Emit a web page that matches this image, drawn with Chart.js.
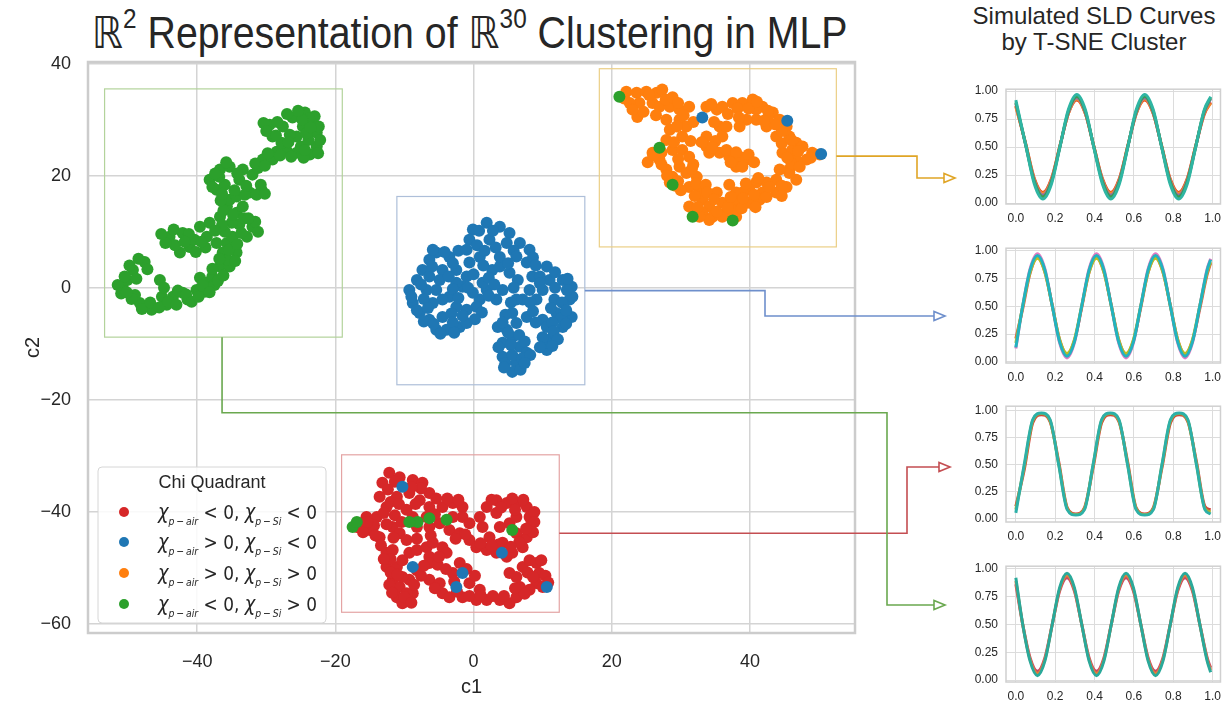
<!DOCTYPE html>
<html>
<head>
<meta charset="utf-8">
<script src="https://cdn.jsdelivr.net/npm/chart.js@4.4.1/dist/chart.umd.min.js"></script>
<style>
  body { margin: 0; background: #fff; width: 1228px; height: 703px; overflow: hidden; position: relative;
         font-family: "Liberation Sans", Arial, sans-serif; color: #262626; }
  canvas { position: absolute; }
  #title { position: absolute; left: 92px; top: 8px; font-size: 44px; line-height: 50px; white-space: nowrap; transform-origin: 0 0; }
  #title .bb { font-family: "DejaVu Sans"; }
  #title sup { font-size: 0.62em; vertical-align: 0.75em; line-height: 0; }
  #title2 { position: absolute; left: 958px; width: 272px; top: 3px; text-align: center; font-size: 24px; line-height: 26px; }
</style>
</head>
<body>
<div id="title"><span class="bb">ℝ</span><sup>2</sup> Representation of <span class="bb">ℝ</span><sup>30</sup> Clustering in MLP</div>
<div id="title2">Simulated SLD Curves<br>by T-SNE Cluster</div>
<canvas id="main" width="1228" height="703" style="left:0;top:0"></canvas>
<canvas id="sld1" width="273" height="152" style="left:955px;top:74px"></canvas>
<canvas id="sld2" width="273" height="152" style="left:955px;top:233px"></canvas>
<canvas id="sld3" width="273" height="153" style="left:955px;top:391px"></canvas>
<canvas id="sld4" width="273" height="153" style="left:955px;top:551px"></canvas>
<script>
// ---- t-SNE scatter (c1, c2) ----
const xTicks = [-40, -20, 0, 20, 40];
const yTicks = [-60, -40, -20, 0, 20, 40];

const greenPts = [
  [-50.8,0.2],[-49.3,3.2],[-47.6,4.6],[-48.3,-2.7],[-46.6,-3.9],[-45.4,1.4],[-45.1,-1.6],[-43.5,-1.6],[-42.1,-0.9],
  [-40.1,-0.4],[-39.6,1.8],[-38.6,0.9],[-37.8,2.0],[-36.7,3.8],[-36.3,6.3],[-35.7,8.0],[-34.9,9.1],[-34.3,6.3],
  [-35.3,3.8],[-37.2,8.0],[-38.6,9.1],[-41.1,7.3],[-42.5,6.3],[-44.0,9.1],[-42.1,9.8],[-39.6,10.9],[-38.2,11.6],
  [-36.7,12.7],[-35.7,14.5],[-34.3,13.4],[-33.4,14.5],[-32.0,10.9],[-32.8,9.1],[-35.3,15.7],[-34.3,16.3],[-32.4,17.0],
  [-30.7,17.5],[-37.2,17.5],[-38.2,19.3],[-36.7,21.1],[-35.3,21.6],[-33.4,21.1],[-32.0,20.2],[-30.5,22.9],[-29.1,22.9],
  [-28.5,24.3],[-27.1,24.6],[-25.6,24.1],[-23.7,23.8],[-22.7,25.2],[-22.7,27.7],[-23.3,29.5],[-24.4,31.3],[-26.2,30.4],
  [-27.6,28.8],[-29.5,29.1],[-29.1,27.0],[-27.8,25.9],[-25.6,27.0],[-24.7,28.8],[-50.1,1.4],[-49.0,-1.3],[-44.4,-3.0],
  [-41.4,-2.1],[-38.9,-0.7],[-37.5,0.5],[-35.6,5.0],[-36.0,10.0],[-40.4,8.6],[-33.9,11.3],[-33.1,16.6],[-36.0,18.4],
  [-33.9,19.3],[-31.2,21.4],[-25.0,25.2],[-23.9,26.4],[-26.6,27.3],
  [-51.5,0.5],[-51.0,-1.0],[-50.5,2.0],[-49.8,4.0],[-48.5,5.2],[-47.2,3.3],[-49.5,-2.0],[-48.0,-3.8],[-46.8,-2.6],
  [-45.5,-3.5],[-44.8,0.0],[-50.2,-0.8],[-48.8,1.6],[-44.2,-2.5],[-43.0,-3.0],[-42.8,-0.5],[-41.6,-1.2],[-40.8,-2.5],
  [-39.8,-1.6],[-39.2,0.4],[-38.2,-0.8],[-37.0,1.2],[-36.2,2.2],[-37.8,3.4],[-36.8,5.2],[-35.4,6.8],[-34.2,7.8],
  [-33.6,9.8],[-35.0,11.6],[-36.4,11.2],[-37.4,10.2],[-38.8,7.2],[-34.5,4.8],[-33.2,12.4],[-43.2,7.6],[-44.6,8.0],
  [-45.2,9.6],[-43.4,10.4],[-41.2,9.6],[-40.2,6.4],[-39.4,8.2],[-41.8,8.2],[-31.2,10.0],[-31.6,11.8],[-32.6,12.4],
  [-36.2,13.8],[-34.8,13.0],[-36.6,15.6],[-34.6,17.4],[-36.4,16.8],[-37.8,18.0],[-36.8,19.8],[-34.2,20.4],[-35.8,22.4],
  [-37.4,20.4],[-32.9,18.2],[-31.4,16.6],[-30.2,16.8],[-30.8,18.4],[-31.6,22.2],[-30.2,21.8],[-29.8,24.0],[-28.0,23.6],
  [-26.4,23.4],[-24.6,23.2],[-22.5,24.0],[-24.4,24.6],[-22.2,26.4],[-22.4,28.8],[-23.0,30.6],[-23.8,30.2],[-24.8,30.0],
  [-25.4,31.6],[-27.0,31.0],[-28.4,29.6],[-30.4,29.4],[-30.0,28.0],[-28.6,27.2],[-24.2,27.6],[-23.6,28.6],[-26.8,26.0]
];

const bluePts = [
  [1.9,11.6],[-0.1,10.4],[3.8,10.9],[5.2,9.8],[-0.6,8.6],[2.3,8.6],[4.8,8.0],[6.7,8.0],[8.1,6.8],[7.7,4.5],[10.6,3.8],
  [8.5,2.0],[11.0,1.4],[12.9,1.4],[14.2,0.2],[13.9,-2.1],[14.2,-5.2],[12.9,-7.0],[11.4,-8.8],[10.6,-9.8],[12.0,-4.5],
  [10.0,-5.7],[9.1,-2.1],[8.1,-0.4],[7.1,-2.1],[7.7,-5.2],[6.2,-6.3],[5.6,-8.8],[6.7,-10.5],[7.7,-11.6],[6.2,-13.4],
  [5.6,-15.0],[4.2,-12.3],[4.2,-9.8],[4.8,-7.5],[3.5,-7.0],[5.6,-4.5],[6.2,-2.1],[4.2,-0.4],[3.3,-2.1],[1.9,-0.4],
  [0.9,-2.1],[1.3,0.9],[2.7,3.2],[3.8,3.8],[3.8,5.5],[0.9,5.5],[-0.6,4.5],[-1.0,2.0],[-1.6,0.2],[-0.1,-0.9],[0.4,-3.4],
  [-1.0,-3.9],[-2.5,-3.4],[-3.5,-1.6],[-2.5,0.9],[-2.5,3.2],[-3.5,5.5],[-4.5,3.2],[-5.4,6.3],[-6.4,5.0],[-7.4,3.2],
  [-8.2,1.4],[-9.3,-0.4],[-8.8,-2.7],[-7.8,-4.5],[-6.4,-5.7],[-5.4,-7.5],[-3.9,-7.5],[-2.0,-7.0],[-1.0,-6.3],[-4.5,-5.2],
  [-5.9,-2.7],[-6.8,-0.4],[-5.4,-0.4],[-4.5,-2.1],[-6.4,2.0],[-4.9,1.4],[-5.9,6.8],[10.6,-11.1],[10.0,-8.8],[12.7,-5.4],
  [14.3,-1.6],[13.5,-0.4],[10.0,-0.4],[11.7,-2.1],[5.2,2.7],[10.6,-7.0],
  [0.8,10.2],[2.8,10.2],[0.5,7.6],[3.2,7.2],[5.8,6.6],[-4.2,6.4],[-2.2,6.6],[-1.0,6.8],[1.6,6.6],[6.2,5.6],[8.6,5.4],
  [-6.0,3.8],[-3.0,4.4],[1.4,4.0],[5.0,4.4],[9.0,4.0],[11.8,2.8],[-3.6,2.0],[0.0,2.4],[2.2,1.8],[6.4,1.4],[9.6,2.0],
  [13.6,1.6],[-7.6,0.6],[-3.0,-0.2],[-0.8,0.0],[3.0,0.6],[5.8,0.0],[9.6,0.8],[11.8,0.0],[-9.0,-1.6],[-7.2,-2.0],
  [-2.2,-1.8],[2.2,-1.4],[5.4,-2.6],[8.2,-2.6],[12.8,-2.6],[-8.2,-4.0],[-6.6,-3.6],[-3.2,-4.6],[-1.6,-5.0],[1.2,-4.4],
  [4.6,-4.8],[8.6,-4.2],[11.2,-3.6],[13.4,-4.0],[-7.2,-6.0],[-5.8,-6.4],[-3.0,-6.2],[0.2,-5.6],[4.2,-6.2],[9.0,-6.2],
  [11.4,-6.2],[13.4,-6.4],[-4.8,-8.2],[-2.8,-8.0],[5.0,-8.0],[6.6,-8.4],[11.6,-7.8],[12.2,-9.2],[3.6,-10.6],[5.4,-10.2],
  [7.4,-9.6],[9.6,-10.6],[11.4,-10.4],[4.6,-13.4],[5.6,-12.0],[7.0,-12.6],[8.2,-12.0],[4.4,-14.2],[6.8,-14.6],[7.4,-13.4]
];

const orangePts = [
  [22.1,35.0],[23.6,34.8],[25.0,35.0],[26.5,34.8],[27.3,35.4],[24.0,33.0],[22.6,33.0],[23.7,30.5],[25.9,33.0],[26.9,32.3],
  [28.4,32.3],[29.8,31.8],[31.2,32.3],[27.9,30.0],[29.8,30.0],[30.8,28.8],[28.4,28.2],[30.2,27.0],[27.9,26.4],[28.8,24.6],
  [30.2,24.6],[31.2,23.4],[25.9,24.1],[26.9,22.9],[27.9,21.1],[28.8,19.8],[29.8,21.6],[30.8,20.5],[32.3,19.8],[28.4,18.8],
  [31.2,18.0],[32.7,17.5],[33.1,15.7],[34.1,14.5],[35.2,17.0],[36.0,15.2],[33.1,13.4],[34.6,12.7],[36.6,13.4],[38.0,12.7],
  [38.0,15.2],[31.2,14.5],[33.7,32.3],[35.2,31.8],[36.0,32.3],[37.5,33.0],[38.9,33.0],[40.4,33.6],[41.8,32.3],[43.3,31.3],
  [40.9,30.0],[39.5,30.0],[38.5,28.8],[35.6,28.8],[36.0,27.0],[36.6,28.8],[33.7,27.0],[33.7,25.2],[34.1,24.1],[35.6,24.1],
  [37.0,23.4],[38.5,23.4],[39.5,22.9],[38.0,21.6],[38.9,21.6],[44.3,30.0],[45.3,28.8],[45.7,27.0],[46.7,25.9],[47.6,25.2],
  [49.0,24.1],[50.1,23.8],[48.2,22.9],[46.7,22.9],[45.7,21.1],[46.7,19.3],[45.3,18.0],[43.8,19.3],[42.4,18.8],[40.9,18.8],
  [39.9,17.5],[38.9,17.0],[38.0,17.0],[41.8,17.0],[43.8,17.0],[39.9,15.2],[41.4,15.7],[37.5,13.9],[45.7,20.5],[44.3,21.1],
  [36.0,12.7],[34.1,12.1],[32.7,12.7],[44.7,24.1],[43.8,27.0],[42.4,28.8],[40.9,31.8],[46.1,24.6],
  [21.8,33.8],[23.0,31.8],[24.6,31.4],[25.4,34.4],[27.8,33.6],[28.8,34.0],[29.6,33.0],[30.4,30.8],[26.4,30.8],
  [29.0,26.0],[31.4,26.2],[29.4,28.8],[31.8,29.6],[27.2,24.2],[29.6,23.0],[31.8,22.0],[27.2,22.0],[25.2,22.4],[26.0,23.6],
  [28.0,20.0],[29.6,19.0],[31.6,21.2],[30.0,17.4],[29.2,18.2],[32.2,18.6],[33.6,18.4],[32.0,16.4],[33.8,17.0],[34.8,15.8],
  [35.2,13.6],[32.4,14.4],[36.8,14.4],[37.2,16.2],[38.8,14.2],[39.0,16.0],[40.6,16.6],[40.8,14.4],[42.4,16.2],[42.8,18.0],
  [44.6,18.2],[44.6,16.4],[39.4,18.6],[41.2,19.6],[37.0,18.4],[46.0,22.2],[47.2,21.6],[48.8,23.2],[47.0,24.4],[45.4,23.2],
  [44.6,25.8],[46.0,26.4],[44.6,28.0],[43.6,29.2],[42.6,30.4],[34.4,32.8],[36.8,31.0],[38.2,32.0],[39.8,32.0],[41.0,33.2],
  [42.6,31.6],[42.0,29.8],[38.4,30.4],[34.8,29.6],[35.0,26.2],[34.6,25.0],[36.6,24.6],[38.0,24.2],[39.8,23.8],[40.6,22.4],
  [37.2,22.4],[33.0,26.0]
];

const redPts = [
  [-12.2,-33.0],[-10.7,-33.8],[-8.8,-34.3],[-7.4,-34.8],[-13.2,-34.8],[-13.6,-37.3],[-12.6,-39.1],[-14.0,-40.9],[-15.5,-40.9],
  [-16.5,-42.0],[-15.0,-43.2],[-13.6,-44.5],[-11.7,-42.7],[-10.7,-43.8],[-9.7,-45.0],[-11.1,-37.3],[-9.3,-36.6],[-7.8,-37.9],
  [-6.4,-36.6],[-6.4,-39.1],[-6.8,-40.9],[-8.8,-40.9],[-9.7,-39.6],[-8.2,-42.7],[-6.4,-42.7],[-4.9,-42.0],[-4.5,-39.1],
  [-3.0,-38.4],[-1.6,-39.1],[-1.6,-40.9],[-3.0,-40.9],[-3.5,-43.2],[-2.0,-43.8],[-0.6,-45.0],[0.4,-46.3],[1.9,-46.8],
  [3.3,-47.3],[4.8,-48.0],[5.6,-47.3],[4.2,-45.5],[2.3,-44.5],[1.3,-42.7],[0.9,-40.9],[1.9,-39.1],[3.3,-37.9],[4.8,-38.4],
  [6.2,-38.4],[7.7,-39.1],[8.1,-40.9],[8.1,-42.7],[7.7,-44.5],[7.1,-46.3],[6.2,-43.8],[5.2,-42.0],[6.2,-40.9],[3.3,-40.2],
  [3.8,-42.7],[-0.6,-42.0],[-12.6,-47.3],[-11.7,-46.8],[-12.6,-49.8],[-11.1,-49.8],[-10.3,-48.6],[-9.3,-47.3],[-8.2,-46.8],
  [-6.8,-46.3],[-5.9,-45.5],[-4.5,-46.3],[-3.9,-47.3],[-6.4,-48.0],[-6.4,-49.1],[-11.7,-52.1],[-10.7,-53.4],[-11.1,-55.2],
  [-10.3,-56.3],[-8.8,-54.5],[-9.3,-52.1],[-8.2,-50.4],[-10.3,-51.6],[-6.4,-52.1],[-4.9,-52.7],[-4.5,-54.5],[-3.5,-55.2],
  [-1.6,-55.2],[0.4,-55.7],[1.9,-55.7],[3.8,-55.7],[5.2,-56.3],[6.2,-55.2],[6.7,-53.4],[6.2,-51.6],[7.1,-49.8],[8.1,-48.6],
  [9.1,-49.1],[9.5,-50.9],[9.1,-52.7],[10.0,-53.4],[8.1,-53.9],[5.2,-50.9],[-3.0,-50.9],[-0.6,-52.7],[0.9,-53.9],
  [-2.0,-49.1],[-9.7,-54.5],[-16.9,-42.7],
  [-11.4,-34.6],[-12.4,-36.0],[-12.0,-38.2],[-13.0,-40.2],[-11.4,-40.6],[-10.4,-41.8],[-12.6,-42.2],[-14.4,-42.4],
  [-16.0,-43.6],[-14.2,-44.2],[-11.6,-44.6],[-10.8,-38.6],[-8.4,-38.6],[-7.6,-35.8],[-5.4,-37.6],[-5.6,-40.4],[-3.8,-37.6],
  [-2.2,-37.8],[2.6,-37.8],[5.6,-37.6],[7.2,-37.8],[8.8,-40.0],[8.8,-41.8],[8.6,-43.6],[7.6,-43.0],[6.6,-45.4],[5.4,-46.2],
  [3.6,-45.8],[2.6,-46.0],[1.0,-45.6],[-1.2,-44.0],[-2.6,-44.8],[-12.0,-48.4],[-13.0,-48.4],[-12.0,-50.8],[-11.0,-51.2],
  [-12.2,-53.0],[-11.8,-54.4],[-10.0,-55.2],[-9.0,-56.2],[-8.6,-53.0],[-7.6,-51.4],[-7.2,-49.6],[-5.2,-49.4],[-5.0,-48.0],
  [-5.6,-53.6],[-2.4,-54.2],[-0.6,-55.0],[1.0,-54.8],[2.8,-55.0],[4.4,-55.0],[6.0,-53.6],[7.4,-54.6],[7.8,-50.8],
  [8.6,-51.6],[10.4,-51.4],[10.8,-52.6],[9.8,-48.6],[-1.0,-50.2],[0.2,-51.4],[-4.0,-50.2],[-2.8,-52.4],[-6.2,-44.2],
  [-8.2,-44.8],[-13.4,-46.0],[-9.0,-35.6],[4.0,-39.2],[6.0,-39.6],[-15.4,-41.8]
];

// points whose quadrant differs from their cluster
const blueStrays = [[33.1,30.4],[45.4,29.8],[50.3,23.9],[-10.3,-35.5],[-8.8,-49.8],[-1.6,-50.9],[-2.5,-53.4],[4.1,-47.3],[10.6,-53.4]];
const greenStrays = [[21.1,34.1],[26.9,25.0],[28.8,18.4],[31.7,12.7],[37.5,12.0],[-17.5,-42.7],[-16.9,-41.8],[-8.1,-41.8],
  [-9.3,-41.8],[-6.4,-41.1],[-3.9,-41.4],[5.6,-43.2]];

// cluster boxes [x1, x2, yTop, yBottom]
const boxGreen = [-53.4, -19.0, 35.5, -8.8];
const boxBlue = [-11.1, 16.1, 16.3, -17.3];
const boxOrange = [18.2, 52.5, 39.1, 7.3];
const boxRed = [-19.1, 12.4, -29.8, -57.9];

const legendSigns = [['<', '<'], ['>', '<'], ['>', '>'], ['<', '>']];
const legendColors = ['#d62728', '#1f77b4', '#ff7f0e', '#2ca02c'];

// ---- simulated SLD curves ----
const sldXTicks = [0, 0.2, 0.4, 0.6, 0.8, 1.0];
const sldYTicks = [0, 0.25, 0.5, 0.75, 1.0];

const sld1X = [0, 0.05, 0.094, 0.1375, 0.181, 0.224, 0.267, 0.31, 0.353, 0.396, 0.44, 0.4825, 0.526, 0.569, 0.612, 0.655,
  0.698, 0.741, 0.784, 0.8275, 0.871, 0.914, 0.957, 0.99];
const sld1Teal = [0.92,0.52,0.17,0.036,0.17,0.50,0.835,0.97,0.835,0.50,0.17,0.036,0.17,0.50,0.835,0.97,0.835,0.50,0.17,0.036,0.17,0.50,0.83,0.95];
const sld1Green = [0.90,0.52,0.19,0.055,0.19,0.505,0.82,0.955,0.82,0.505,0.19,0.055,0.19,0.505,0.82,0.955,0.82,0.505,0.19,0.055,0.19,0.505,0.82,0.94];
const sld1Purple = [0.89,0.52,0.20,0.07,0.20,0.505,0.81,0.94,0.81,0.505,0.20,0.07,0.20,0.505,0.81,0.94,0.81,0.505,0.20,0.07,0.20,0.505,0.81,0.93];
const sld1Orange = [0.86,0.53,0.21,0.085,0.21,0.51,0.80,0.93,0.80,0.51,0.21,0.085,0.21,0.51,0.80,0.93,0.80,0.51,0.21,0.085,0.21,0.51,0.80,0.89];
const sld1Red = [0.87,0.53,0.22,0.095,0.22,0.51,0.80,0.92,0.80,0.51,0.22,0.095,0.22,0.51,0.80,0.92,0.80,0.51,0.22,0.095,0.22,0.51,0.79,0.90];

const sld24X = [0, 0.035, 0.0725, 0.11, 0.1475, 0.185, 0.2225, 0.26, 0.2975, 0.335, 0.3725, 0.41, 0.4475, 0.485, 0.5225,
  0.56, 0.5975, 0.635, 0.6725, 0.71, 0.7475, 0.785, 0.8225, 0.86, 0.8975, 0.935, 0.9725, 0.99];
const sld2Pink = [0.12,0.505,0.84,0.975,0.84,0.505,0.17,0.035,0.17,0.505,0.84,0.975,0.84,0.505,0.17,0.035,0.17,0.505,0.84,0.975,0.84,0.505,0.17,0.035,0.17,0.505,0.84,0.93];
const sld2Cyan = [0.13,0.505,0.83,0.96,0.83,0.505,0.18,0.05,0.18,0.505,0.83,0.96,0.83,0.505,0.18,0.05,0.18,0.505,0.83,0.96,0.83,0.505,0.18,0.05,0.18,0.505,0.83,0.92];
const sld2Olive = [0.17,0.50,0.81,0.935,0.81,0.505,0.20,0.075,0.20,0.505,0.81,0.935,0.81,0.505,0.20,0.075,0.20,0.505,0.81,0.935,0.81,0.505,0.20,0.075,0.20,0.505,0.81,0.90];
const sld2Red = [0.21,0.48,0.80,0.94,0.81,0.51,0.20,0.07,0.19,0.49,0.81,0.94,0.81,0.51,0.20,0.07,0.19,0.49,0.81,0.94,0.81,0.51,0.20,0.07,0.19,0.48,0.79,0.89];

const sld3X = [0, 0.0425, 0.086, 0.13, 0.174, 0.2175, 0.261, 0.305, 0.349, 0.3925, 0.436, 0.48, 0.524, 0.5675, 0.611, 0.655,
  0.699, 0.7425, 0.786, 0.83, 0.874, 0.9175, 0.961, 0.99];
const sld3Teal = [0.05,0.50,0.92,0.98,0.92,0.50,0.08,0.03,0.08,0.50,0.92,0.98,0.92,0.50,0.08,0.03,0.08,0.50,0.92,0.98,0.92,0.50,0.08,0.04];
const sld3Olive = [0.08,0.48,0.91,0.975,0.91,0.51,0.09,0.035,0.09,0.49,0.91,0.975,0.91,0.51,0.09,0.035,0.09,0.49,0.91,0.975,0.91,0.51,0.09,0.06];
const sld3Red = [0.11,0.45,0.89,0.965,0.90,0.53,0.10,0.04,0.10,0.47,0.89,0.965,0.90,0.53,0.10,0.04,0.10,0.47,0.89,0.965,0.90,0.53,0.11,0.08];

const sld4Teal = [0.92,0.50,0.17,0.04,0.17,0.50,0.83,0.96,0.83,0.50,0.17,0.04,0.17,0.50,0.83,0.96,0.83,0.50,0.17,0.04,0.17,0.50,0.83,0.96,0.83,0.50,0.17,0.07];
const sld4Orange = [0.89,0.50,0.185,0.06,0.185,0.50,0.815,0.94,0.815,0.50,0.185,0.06,0.185,0.50,0.815,0.94,0.815,0.50,0.185,0.06,0.185,0.50,0.815,0.94,0.815,0.50,0.185,0.09];
const sld4Crimson = [0.86,0.50,0.20,0.08,0.20,0.50,0.80,0.92,0.80,0.50,0.20,0.08,0.20,0.50,0.80,0.92,0.80,0.50,0.20,0.08,0.20,0.50,0.80,0.92,0.80,0.50,0.20,0.11];

// fit the squeezed-looking title to its width in the reference
const titleEl = document.getElementById('title');
titleEl.style.transform = 'scaleX(' + (756 / titleEl.offsetWidth) + ')';

const minus = v => String(v).replace('-', '\u2212');
const TXT = '#262626';

function pts(arr) { return arr.map(p => ({ x: p[0], y: p[1] })); }
function dots(arr, color) {
  return { data: pts(arr), backgroundColor: color, borderWidth: 0, pointRadius: 6, pointHoverRadius: 6 };
}

function arrowPath(ctx, path, color) {
  ctx.save();
  ctx.strokeStyle = color;
  ctx.lineWidth = 1.6;
  ctx.beginPath();
  path.forEach((p, i) => i ? ctx.lineTo(p[0], p[1]) : ctx.moveTo(p[0], p[1]));
  const tip = path[path.length - 1];
  ctx.lineTo(tip[0] - 10, tip[1]);
  ctx.stroke();
  ctx.beginPath();
  ctx.moveTo(tip[0], tip[1]);
  ctx.lineTo(tip[0] - 11, tip[1] - 4.5);
  ctx.lineTo(tip[0] - 11, tip[1] + 4.5);
  ctx.closePath();
  ctx.fillStyle = '#fff';
  ctx.fill();
  ctx.stroke();
  ctx.restore();
}

const decor = {
  id: 'decor',
  beforeDatasetsDraw(chart) {
    const { ctx, chartArea: a, scales: { x, y } } = chart;
    ctx.save();
    [[boxGreen, '#b3d39b'], [boxBlue, '#aebfd9'], [boxOrange, '#ebcf86'], [boxRed, '#e4a4a4']].forEach(([b, c]) => {
      ctx.strokeStyle = c;
      ctx.lineWidth = 1.2;
      const x1 = x.getPixelForValue(b[0]), x2 = x.getPixelForValue(b[1]);
      const y1 = y.getPixelForValue(b[2]), y2 = y.getPixelForValue(b[3]);
      ctx.strokeRect(x1, y1, x2 - x1, y2 - y1);
    });
    ctx.strokeStyle = '#cccccc';
    ctx.lineWidth = 2.5;
    ctx.strokeRect(a.left, a.top, a.right - a.left, a.bottom - a.top);
    ctx.restore();
  },
  afterDraw(chart) {
    const { ctx, scales: { x, y } } = chart;
    const px = v => x.getPixelForValue(v), py = v => y.getPixelForValue(v);
    // connectors to the SLD panels
    const yo = py(23.5);
    arrowPath(ctx, [[px(boxOrange[1]), yo], [917, yo], [917, 178], [955, 178]], '#e0a526');
    const yb = py(-0.5);
    arrowPath(ctx, [[px(boxBlue[1]), yb], [765, yb], [765, 316], [945, 316]], '#6e8fcc');
    const yr = py(-43.8);
    arrowPath(ctx, [[px(boxRed[1]), yr], [907, yr], [907, 467], [950, 467]], '#c44e52');
    const xg = px(-36.4), yg = py(-22.3);
    arrowPath(ctx, [[xg, py(boxGreen[3])], [xg, yg], [887, yg], [887, 605], [945, 605]], '#6aa84f');

    // legend
    ctx.save();
    ctx.beginPath();
    ctx.roundRect(98, 467, 228, 156, 4);
    ctx.fillStyle = 'rgba(255,255,255,0.85)';
    ctx.fill();
    ctx.strokeStyle = '#d6d6d6';
    ctx.lineWidth = 1;
    ctx.stroke();
    ctx.fillStyle = TXT;
    ctx.textAlign = 'center';
    ctx.textBaseline = 'middle';
    ctx.font = '18px "Liberation Sans", Arial, sans-serif';
    ctx.fillText('Chi Quadrant', 212, 483);
    const rowY = [512, 542, 573, 604];
    legendSigns.forEach((s, i) => {
      const yy = rowY[i];
      ctx.beginPath();
      ctx.arc(124, yy, 5, 0, Math.PI * 2);
      ctx.fillStyle = legendColors[i];
      ctx.fill();
      const pieces = [
        ['italic 21px "DejaVu Sans"', '\u03c7', 0],
        ['italic 11px "DejaVu Sans"', 'p\u2009\u2212\u2009air', 6],
        ['20px "DejaVu Sans"', ' ' + s[0] + ' 0, ', 0],
        ['italic 21px "DejaVu Sans"', '\u03c7', 0],
        ['italic 11px "DejaVu Sans"', 'p\u2009\u2212\u2009Si', 6],
        ['20px "DejaVu Sans"', ' ' + s[1] + ' 0', 0]
      ];
      let w = 0;
      pieces.forEach(p => { ctx.font = p[0]; w += ctx.measureText(p[1]).width; });
      const k = 159 / w;
      ctx.save();
      ctx.translate(158, 0);
      ctx.scale(k, 1);
      ctx.fillStyle = TXT;
      ctx.textAlign = 'left';
      ctx.textBaseline = 'alphabetic';
      let cx = 0;
      pieces.forEach(p => {
        ctx.font = p[0];
        ctx.fillText(p[1], cx, yy + 7 + p[2]);
        cx += ctx.measureText(p[1]).width;
      });
      ctx.restore();
    });
    ctx.restore();
  }
};

new Chart(document.getElementById('main'), {
  type: 'scatter',
  data: {
    datasets: [
      dots(greenStrays, '#2ca02c'),
      dots(blueStrays, '#1f77b4'),
      dots(greenPts, '#2ca02c'),
      dots(bluePts, '#1f77b4'),
      dots(orangePts, '#ff7f0e'),
      dots(redPts, '#d62728')
    ]
  },
  options: {
    responsive: false,
    animation: false,
    layout: { padding: { left: 0, top: 62, right: 373, bottom: 0 } },
    plugins: { legend: { display: false }, tooltip: { enabled: false } },
    scales: {
      x: {
        type: 'linear', min: -55.8, max: 55.2,
        afterBuildTicks: s => { s.ticks = xTicks.map(v => ({ value: v })); },
        afterFit: s => { s.height = 70; },
        grid: { color: '#d4d4d4', lineWidth: 1.5, drawTicks: false },
        border: { display: false },
        ticks: { padding: 18, color: TXT, font: { size: 18, family: '"Liberation Sans", Arial' }, callback: minus },
        title: { display: true, text: 'c1', color: TXT, font: { size: 20, family: '"Liberation Sans", Arial' }, padding: { top: 4, bottom: 4 } }
      },
      y: {
        type: 'linear', min: -61.6, max: 40.3,
        afterBuildTicks: s => { s.ticks = yTicks.map(v => ({ value: v })); },
        afterFit: s => { s.width = 88; },
        grid: { color: '#d4d4d4', lineWidth: 1.5, drawTicks: false },
        border: { display: false },
        ticks: { padding: 17, color: TXT, font: { size: 18, family: '"Liberation Sans", Arial' }, callback: minus },
        title: { display: true, text: 'c2', color: TXT, font: { size: 20, family: '"Liberation Sans", Arial' }, padding: { top: 21, bottom: 4 } }
      }
    }
  },
  plugins: [decor]
});

const frame = {
  id: 'frame',
  beforeDatasetsDraw(chart) {
    const { ctx, chartArea: a } = chart;
    ctx.save();
    ctx.strokeStyle = '#d0d0d0';
    ctx.lineWidth = 1.5;
    ctx.strokeRect(a.left, a.top, a.right - a.left, a.bottom - a.top);
    ctx.restore();
  }
};

function sldChart(id, xs, series, colors, yMin, yMax) {
  return new Chart(document.getElementById(id), {
    type: 'line',
    data: {
      datasets: series.map((ys, i) => ({
        data: xs.map((x, j) => ({ x: x, y: ys[j] })),
        borderColor: colors[i], borderWidth: 3, pointRadius: 0, fill: false,
        cubicInterpolationMode: 'monotone'
      }))
    },
    options: {
      responsive: false,
      animation: false,
      layout: { padding: { left: 0, top: 8, right: 1, bottom: 0 } },
      plugins: { legend: { display: false }, tooltip: { enabled: false } },
      scales: {
        x: {
          type: 'linear', min: -0.05, max: 1.04,
          afterBuildTicks: s => { s.ticks = sldXTicks.map(v => ({ value: v })); },
          afterFit: s => { s.height = 22; },
          grid: { color: '#dcdcdc', lineWidth: 1, drawTicks: false },
          border: { display: false },
          ticks: { padding: 7, color: TXT, font: { size: 12, family: '"Liberation Sans", Arial' }, callback: v => v.toFixed(1) }
        },
        y: {
          type: 'linear', min: yMin, max: yMax,
          afterBuildTicks: s => { s.ticks = sldYTicks.map(v => ({ value: v })); },
          afterFit: s => { s.width = 51; },
          grid: { color: '#dcdcdc', lineWidth: 1, drawTicks: false },
          border: { display: false },
          ticks: { padding: 8, color: TXT, font: { size: 12, family: '"Liberation Sans", Arial' }, callback: v => v.toFixed(2) }
        }
      }
    },
    plugins: [frame]
  });
}

sldChart('sld1', sld1X, [sld1Teal, sld1Green, sld1Purple, sld1Orange, sld1Red],
  ['#2fb5a3', '#3d9c4e', '#8c6bb1', '#f28a2c', '#e2461d'], -0.008, 1.017);
sldChart('sld2', sld24X, [sld2Cyan, sld2Olive, sld2Red, sld2Pink],
  ['#23b3bf', '#bcbd22', '#d9534f', '#e07ac4'], -0.011, 1.025);
sldChart('sld3', sld3X, [sld3Teal, sld3Olive, sld3Red],
  ['#2db0a8', '#a9b232', '#d1423a'], -0.035, 1.044);
sldChart('sld4', sld24X, [sld4Teal, sld4Orange, sld4Crimson],
  ['#2aa99a', '#e0803a', '#c8456a'], -0.017, 1.023);
</script>
</body>
</html>
